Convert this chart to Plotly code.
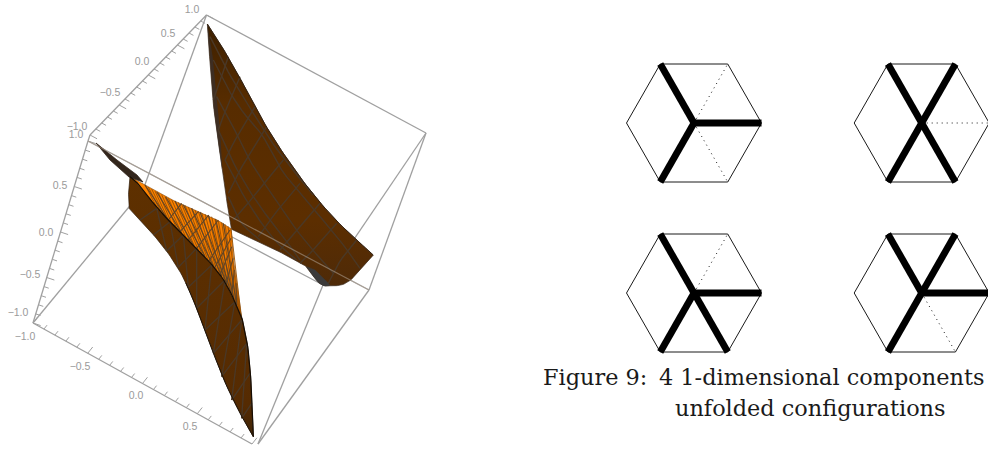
import plotly.graph_objects as go

# ---------- 3D box, projected corners (pixels) ----------
T = (206.5, 15); A = (90, 135); A2 = (88, 141); L = (33, 323)
R = (426, 133); C = (369, 290); D = (323, 285); H = (143, 190); B = (252, 444); B2 = (258, 444)

tick_values = [-1.0, -0.9, -0.8, -0.7, -0.6, -0.5, -0.4, -0.3, -0.2, -0.1, 0.0,
               0.1, 0.2, 0.3, 0.4, 0.5, 0.6, 0.7, 0.8, 0.9, 1.0]
major_values = [-1.0, -0.5, 0.0, 0.5, 1.0]
tick_labels = ["\u22121.0", "\u22120.5", "0.0", "0.5", "1.0"]
x_label_pos = [(25, 337), (80, 367), (136, 396), (190, 427)]
y_label_pos = [(77, 127), (110, 93), (142, 62), (168, 34), (192, 10)]
z_label_pos = [(18, 313), (30, 275), (46, 233), (60, 186), (76, 135)]

# ---------- right sheet, read in a crop with its corner at (200, 20), 3x ----------
RS = (200, 20)
r_edge = [(22, 12), (60, 70), (110, 155), (160, 250), (210, 340), (270, 430), (340, 525), (420, 615), (520, 705)]
r_tail = [(520, 705), (485, 745), (460, 775), (430, 795), (400, 798), (365, 798), (340, 770), (320, 740)]
r_low = [(320, 740), (250, 700), (170, 665), (95, 630)]
r_left = [(95, 630), (85, 580), (75, 500), (60, 400), (42, 280), (30, 130), (22, 12)]
r_strip = [(22, 12), (30, 130), (42, 280), (60, 400), (68, 470), (62, 350), (50, 230), (38, 110)]
r_tail_dark = [(320, 740), (340, 770), (365, 798), (395, 798), (370, 775), (345, 750)]
r_mesh = [
    [(85, 110), (60, 180), (40, 240)],
    [(120, 170), (80, 260), (55, 330)],
    [(165, 260), (110, 350), (75, 420)],
    [(200, 320), (130, 430), (85, 520)],
    [(250, 420), (170, 520), (100, 600)],
    [(300, 490), (240, 560), (175, 650)],
    [(360, 550), (300, 620), (240, 690)],
    [(410, 610), (350, 680), (300, 730)],
    [(470, 660), (420, 720), (385, 790)],
    [(30, 50), (70, 130), (110, 200), (160, 280), (210, 360), (270, 440), (340, 525)],
    [(40, 120), (85, 210), (130, 280), (190, 345), (235, 440), (300, 520), (360, 590), (420, 660), (480, 745)],
    [(50, 230), (100, 320), (150, 425), (200, 500), (260, 590), (320, 670), (400, 760)],
    [(55, 330), (95, 420), (140, 500), (190, 575), (250, 650), (300, 720)],
    [(75, 420), (120, 510), (170, 590), (230, 670), (290, 720)],
    [(85, 530), (120, 610), (180, 660)],
]

# ---------- left sheet, read in a crop with its corner at (125, 170), 3x ----------
LS = (125, 170)
l_outer = [(12, 115), (60, 165), (120, 235), (170, 310), (210, 400), (250, 510), (300, 640), (350, 740), (385, 800)]
l_top = [(15, 20), (10, 65), (12, 115)]
l_crease = [(15, 20), (40, 40), (100, 120), (170, 190), (240, 260), (300, 330), (350, 440)]
l_right = [(350, 440), (370, 530), (380, 660), (385, 800)]
o_upper = [(15, 20), (60, 45), (130, 85), (200, 115), (260, 140), (318, 175)]
o_right = [(318, 175), (322, 240), (335, 340), (350, 440)]
m_out = [(12, 115), (45, 150), (65, 172), (85, 195), (105, 218), (125, 243), (142, 268), (160, 292), (175, 320),
         (190, 352), (203, 385), (215, 415), (228, 448), (240, 480), (253, 515), (265, 550), (278, 585), (290, 620),
         (305, 655), (320, 690), (335, 718), (350, 745)]
m_cre = [(62, 80), (95, 115), (115, 135), (135, 155), (155, 175), (175, 195), (195, 215), (215, 235), (237, 260),
         (260, 285), (280, 308), (300, 330), (315, 362), (330, 395), (340, 422), (350, 450), (358, 485), (365, 520),
         (370, 565), (375, 610), (378, 655), (380, 700)]
o_top = [(60, 45), (70, 51), (80, 57), (90, 63), (100, 68), (110, 74), (120, 80), (130, 85), (140, 89), (150, 93),
         (160, 97), (170, 102), (180, 106), (190, 111), (200, 115), (210, 120), (220, 124), (230, 128), (240, 132),
         (250, 136), (260, 140), (270, 146), (280, 152), (290, 157), (300, 163), (309, 169), (318, 175)]
o_low = [(100, 120), (110, 130), (120, 140), (130, 150), (140, 160), (155, 175), (170, 190), (183, 203), (195, 215),
         (208, 228), (220, 240), (230, 250), (240, 260), (249, 270), (258, 280), (267, 290), (275, 300), (283, 309),
         (290, 318), (297, 328), (303, 338), (310, 354), (318, 370), (326, 387), (335, 405), (342, 420), (348, 435)]
o_up_a = [(130, 150), (165, 185), (190, 210), (215, 235), (250, 275), (268, 295), (285, 315), (302, 345), (320, 375), (335, 405)]
o_up_b = [(170, 100), (220, 125), (250, 136), (280, 150), (315, 180), (318, 205), (320, 230), (324, 265), (328, 300), (333, 340)]
o_dn_a = [(60, 45), (95, 65), (122, 80), (150, 93), (175, 104), (200, 115), (225, 126), (250, 135), (272, 147), (295, 160)]
o_dn_b = [(130, 150), (170, 190), (205, 225), (240, 260), (265, 288), (290, 318), (305, 342), (318, 370), (327, 388), (335, 405)]

spike = [(96, 143), (110, 160), (129, 177), (143, 182), (137, 175), (117, 160)]

# ---------- hexagons ----------
hex_centers = [(694, 123), (921.7, 123), (694, 293), (921.7, 293)]
hex_rx = 67.5
hex_ry = 59
hex_dirs = {"E": (1, 0), "NE": (0.5, -1), "NW": (-0.5, -1), "W": (-1, 0), "SW": (-0.5, 1), "SE": (0.5, 1)}
hex_order = ["E", "NE", "NW", "W", "SW", "SE", "E"]
hex_thick = [["NW", "SW", "E"], ["NW", "NE", "SW", "SE"], ["NW", "SW", "E", "SE"], ["NW", "NE", "E", "SW"]]
hex_dotted = [["NE", "SE"], ["E"], ["NE"], ["SE"]]

GRAY = "#a0a0a0"
MESH = "#4a3826"


def crop(pts, o):
    return [(o[0] + p[0] / 3, o[1] + p[1] / 3) for p in pts]


def smooth(pts, n=3):
    # corner-cutting that keeps the two end points, to round a hand-read outline
    for _ in range(n):
        out = [pts[0]]
        for a, b in zip(pts, pts[1:]):
            out.append((0.75 * a[0] + 0.25 * b[0], 0.75 * a[1] + 0.25 * b[1]))
            out.append((0.25 * a[0] + 0.75 * b[0], 0.25 * a[1] + 0.75 * b[1]))
        out.append(pts[-1])
        pts = out
    return pts


def poly(pts, **kw):
    fig.add_trace(go.Scatter(x=[p[0] for p in pts] + [pts[0][0]], y=[p[1] for p in pts] + [pts[0][1]],
                             mode="lines", fill="toself", hoverinfo="skip", **kw))


def segs(pairs, color, width, dash=None):
    xs, ys = [], []
    for a, b in pairs:
        xs += [a[0], b[0], None]
        ys += [a[1], b[1], None]
    fig.add_trace(go.Scatter(x=xs, y=ys, mode="lines", hoverinfo="skip",
                             line=dict(color=color, width=width, dash=dash)))


def curve(pts, color, width):
    fig.add_trace(go.Scatter(x=[p[0] for p in pts], y=[p[1] for p in pts], mode="lines", hoverinfo="skip",
                             line=dict(color=color, width=width)))


def curves(lines, color, width):
    xs, ys = [], []
    for ln in lines:
        s = smooth(ln, 2)
        xs += [p[0] for p in s] + [None]
        ys += [p[1] for p in s] + [None]
    fig.add_trace(go.Scatter(x=xs, y=ys, mode="lines", hoverinfo="skip", line=dict(color=color, width=width)))


def axis_ticks(p, q, d):
    out = []
    for v in tick_values:
        f = (v + 1) / 2
        o = (p[0] + (q[0] - p[0]) * f, p[1] + (q[1] - p[1]) * f)
        n = 8 if v in major_values else 5
        out.append((o, (o[0] + d[0] * n, o[1] + d[1] * n)))
    return out


fig = go.Figure()

# box edges behind the surface
segs([(T, A), (A, A2), (A2, L), (L, B), (T, R), (T, H), (L, H), (H, D), (R, C), (R, D), (C, B2), (D, B2), (A2, C)], GRAY, 1.3)
segs(axis_ticks(L, B, (0.62, -0.78)) + axis_ticks(A, T, (0.88, 0.47)) + axis_ticks(L, A2, (0.95, 0.32)), GRAY, 1.0)

# right sheet
sheet = smooth(crop(r_edge, RS)) + smooth(crop(r_tail, RS)) + smooth(crop(r_low, RS)) + smooth(crop(r_left, RS))
poly(sheet, fillgradient=dict(type="vertical", colorscale=[[0, "#4e2a08"], [0.25, "#5c2e00"], [0.7, "#572c00"], [1, "#3e2000"]]),
     line=dict(color="#3a2a1c", width=0.7))
poly(smooth(crop(r_strip, RS), 2), fillcolor="rgba(58,48,42,0.8)", line=dict(width=0, color="rgba(0,0,0,0)"))
poly(smooth(crop(r_tail_dark, RS), 2), fillcolor="#3b3a3a", line=dict(color="#3b3a3a", width=0.5))
curves([crop(m, RS) for m in r_mesh], MESH, 1.4)
curve(smooth(crop(r_edge, RS)), "#2e1c0c", 0.9)

# left sheet
lower = smooth(crop(l_top, LS)) + smooth(crop(l_outer, LS)) + smooth(crop(l_right, LS))[::-1] + smooth(crop(l_crease, LS))[::-1]
poly(lower, fillgradient=dict(type="vertical", colorscale=[[0, "#3f2408"], [0.12, "#552b02"], [1, "#5e3000"]]),
     line=dict(color="#2b1a0a", width=0.7))
orange = smooth(crop(o_upper, LS)) + smooth(crop(o_right, LS)) + smooth(crop(l_crease, LS))[::-1]
poly(orange, fillgradient=dict(type="vertical", colorscale=[[0, "#8a4606"], [0.15, "#c86400"], [0.4, "#f47c00"], [1, "#ff8400"]]),
     line=dict(color="#6b3a08", width=0.5))
poly(spike, fillcolor="#33261c", line=dict(color="#33261c", width=0.8))

# left sheet mesh
mo = crop(m_out, LS)
mc = crop(m_cre, LS)
segs([(mo[i], mc[i]) for i in range(len(mo))][1::2], MESH, 1.35)
segs([(mc[i], mo[i + 4]) for i in range(len(mo) - 4)][1::2], MESH, 1.35)
ot = crop(o_top, LS)
ol = crop(o_low, LS)
segs([(ot[i], ol[i]) for i in range(len(ot))], "#9a5000", 0.9)
ua, ub, da, db = crop(o_up_a, LS), crop(o_up_b, LS), crop(o_dn_a, LS), crop(o_dn_b, LS)
segs(list(zip(ua, ub)) + list(zip(da, db)), "#5e4428", 1.1)

# dark edges
curve(smooth(crop(l_crease, LS)) + smooth(crop(l_right, LS)), "#160d04", 1.2)
curve(smooth(crop(l_outer, LS))[30:], "#1e1206", 1.0)

# front box edge seen over the sheet
segs([(A2, C)], "rgba(170,155,140,0.6)", 1.2)

# axis labels
for pos in (x_label_pos, y_label_pos, z_label_pos):
    labs = tick_labels if len(pos) == 5 else tick_labels[:4]
    fig.add_trace(go.Scatter(x=[p[0] for p in pos], y=[p[1] for p in pos], text=labs, mode="text", hoverinfo="skip",
                             textfont=dict(family="Liberation Sans", size=10.5, color="#9a9a9a")))

# hexagons
for i, (cx, cy) in enumerate(hex_centers):
    def v(name):
        d = hex_dirs[name]
        return (cx + d[0] * hex_rx, cy + d[1] * hex_ry)
    curve([v(n) for n in hex_order], "#000000", 0.9)
    segs([((cx, cy), v(n)) for n in hex_dotted[i]], "#000000", 0.9, dash="1px,4px")
    segs([((cx, cy), v(n)) for n in hex_thick[i]], "#000000", 6.8)

# caption
fig.add_trace(go.Scatter(x=[543, 659, 675], y=[379, 379, 410],
                         text=["Figure 9:", "4 1-dimensional components", "unfolded configurations"],
                         mode="text", textposition="middle right", hoverinfo="skip",
                         textfont=dict(family="DejaVu Serif", size=22.4, color="#1a1a1a")))

fig.update_layout(
    width=988, height=449, showlegend=False, paper_bgcolor="white", plot_bgcolor="white",
    margin=dict(l=0, r=0, t=0, b=0),
    xaxis=dict(range=[0, 988], visible=False, fixedrange=True),
    yaxis=dict(range=[449, 0], visible=False, fixedrange=True),
)
fig.write_html("out.html", config=dict(displayModeBar=False),
               post_script="document.body.style.margin='0';document.body.style.overflow='hidden';")
